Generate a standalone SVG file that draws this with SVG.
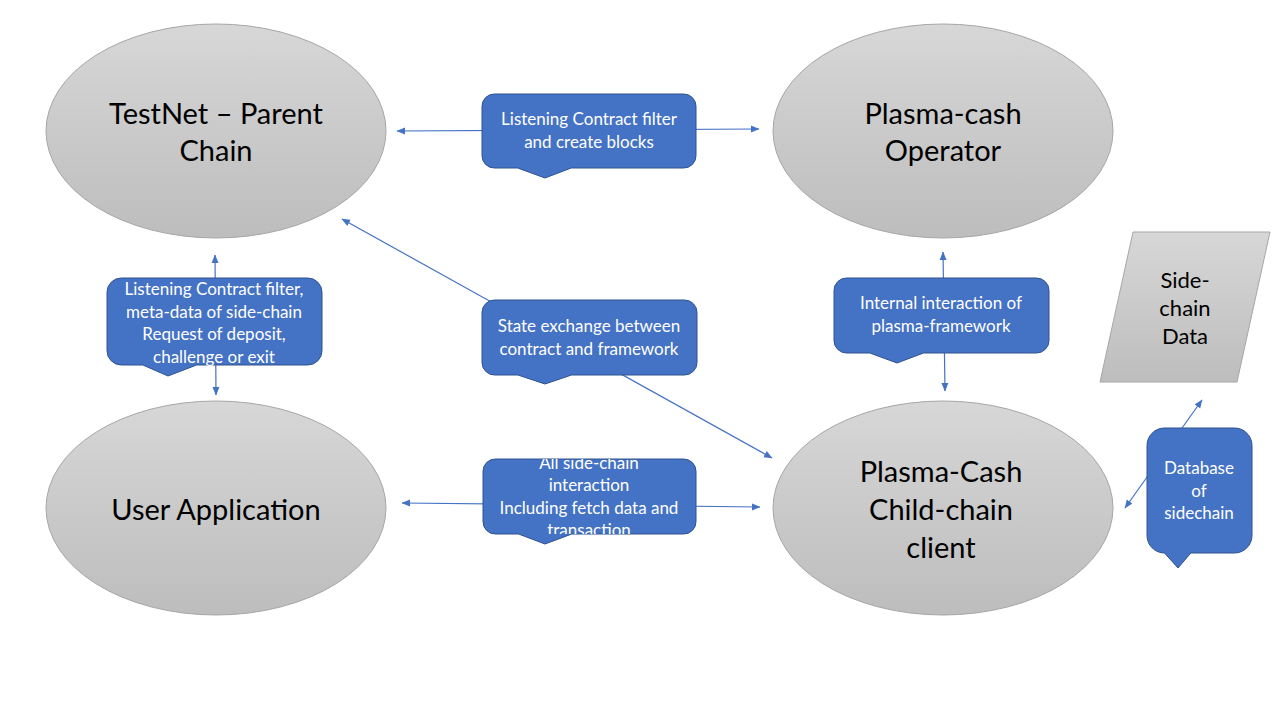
<svg xmlns="http://www.w3.org/2000/svg" width="1280" height="720" viewBox="0 0 1280 720">
  <defs>
    <linearGradient id="gray" x1="0" y1="0" x2="0" y2="1">
      <stop offset="0" stop-color="#d7d7d7"/>
      <stop offset="1" stop-color="#bdbdbd"/>
    </linearGradient>
    <marker id="ah" markerUnits="userSpaceOnUse" markerWidth="9" markerHeight="8" refX="8" refY="4" orient="auto-start-reverse" viewBox="0 0 9 8">
      <path d="M0,0.5 L8.5,4 L0,7.5 Z" fill="#4472c4"/>
    </marker>
    <clipPath id="clipBottom">
      <rect x="483" y="459" width="213" height="75"/>
    </clipPath>
    <style>
      .ell { fill: url(#gray); stroke: #a6a6a6; stroke-width: 1; }
      .para { fill: url(#gray); stroke: #a6a6a6; stroke-width: 1; }
      .call { fill: #4472c4; stroke: #2f528f; stroke-width: 1; }
      .conn { fill: none; stroke: #4472c4; stroke-width: 1.2; marker-start: url(#ah); marker-end: url(#ah); }
      .big { font-family: Lato, "Liberation Sans", sans-serif; font-size: 29px; fill: #000; text-anchor: middle; }
      .side { font-family: Lato, "Liberation Sans", sans-serif; font-size: 22px; fill: #000; text-anchor: middle; }
      .ct { font-family: Lato, "Liberation Sans", sans-serif; font-size: 17px; fill: #fff; text-anchor: middle; }
    </style>
  </defs>
  <rect width="1280" height="720" fill="#fff"/>

  <g id="connectors">
    <line class="conn" x1="397" y1="131" x2="759" y2="129"/>
    <line class="conn" x1="402" y1="503" x2="760" y2="507"/>
    <line class="conn" x1="215" y1="255" x2="216" y2="395"/>
    <line class="conn" x1="943" y1="252" x2="945" y2="391"/>
    <line class="conn" x1="342" y1="219" x2="772" y2="458"/>
    <line class="conn" x1="1125" y1="508" x2="1202" y2="400"/>
  </g>

  <g id="testnet">
    <ellipse class="ell" cx="216" cy="131" rx="170" ry="107"/>
    <text class="big" x="216" y="124">TestNet – Parent</text>
    <text class="big" x="216" y="161">Chain</text>
  </g>

  <g id="operator">
    <ellipse class="ell" cx="943" cy="131" rx="170" ry="107"/>
    <text class="big" x="943" y="124">Plasma-cash</text>
    <text class="big" x="943" y="161">Operator</text>
  </g>

  <g id="user-app">
    <ellipse class="ell" cx="216" cy="508" rx="170" ry="107"/>
    <text class="big" x="216" y="520">User Application</text>
  </g>

  <g id="child-chain">
    <ellipse class="ell" cx="943" cy="508" rx="170" ry="107"/>
    <text class="big" x="941" y="482">Plasma-Cash</text>
    <text class="big" x="941" y="520">Child-chain</text>
    <text class="big" x="941" y="558">client</text>
  </g>

  <g id="side-chain-data">
    <polygon class="para" points="1133,232 1270,232 1237,382 1100,382"/>
    <text class="side" x="1185" y="288">Side-</text>
    <text class="side" x="1185" y="316">chain</text>
    <text class="side" x="1185" y="344">Data</text>
  </g>

  <g id="callout-top">
    <path class="call" d="M494.3,94 H683.7 A12.3,12.3 0 0 1 696,106.3 V155.7 A12.3,12.3 0 0 1 683.7,168 H571.2 L545,178 L517.7,168 H494.3 A12.3,12.3 0 0 1 482,155.7 V106.3 A12.3,12.3 0 0 1 494.3,94 Z"/>
    <text class="ct" x="589" y="125">Listening Contract filter</text>
    <text class="ct" x="589" y="148">and create blocks</text>
  </g>

  <g id="callout-left">
    <path class="call" d="M121.3,278 H307.7 A14.3,14.3 0 0 1 322,292.3 V350.7 A14.3,14.3 0 0 1 307.7,365 H196.6 L168,376 L142.8,365 H121.3 A14.3,14.3 0 0 1 107,350.7 V292.3 A14.3,14.3 0 0 1 121.3,278 Z"/>
    <text class="ct" x="214" y="295">Listening Contract filter,</text>
    <text class="ct" x="214" y="317.5">meta-data of side-chain</text>
    <text class="ct" x="214" y="340">Request of deposit,</text>
    <text class="ct" x="214" y="362.5">challenge or exit</text>
  </g>

  <g id="callout-state">
    <path class="call" d="M494.5,300 H684.5 A12.5,12.5 0 0 1 697,312.5 V362.5 A12.5,12.5 0 0 1 684.5,375 H571.6 L545,384 L517.8,375 H494.5 A12.5,12.5 0 0 1 482,362.5 V312.5 A12.5,12.5 0 0 1 494.5,300 Z"/>
    <text class="ct" x="589" y="332">State exchange between</text>
    <text class="ct" x="589" y="355">contract and framework</text>
  </g>

  <g id="callout-internal">
    <path class="call" d="M846.5,278 H1036.5 A12.5,12.5 0 0 1 1049,290.5 V340.5 A12.5,12.5 0 0 1 1036.5,353 H923.6 L897,363 L869.8,353 H846.5 A12.5,12.5 0 0 1 834,340.5 V290.5 A12.5,12.5 0 0 1 846.5,278 Z"/>
    <text class="ct" x="941" y="309">Internal interaction of</text>
    <text class="ct" x="941" y="332">plasma-framework</text>
  </g>

  <g id="callout-bottom">
    <path class="call" d="M495.3,459 H683.7 A12.3,12.3 0 0 1 696,471.3 V521.7 A12.3,12.3 0 0 1 683.7,534 H571.8 L545,544 L518.5,534 H495.3 A12.3,12.3 0 0 1 483,521.7 V471.3 A12.3,12.3 0 0 1 495.3,459 Z"/>
    <g clip-path="url(#clipBottom)">
      <text class="ct" x="589" y="469">All side-chain</text>
      <text class="ct" x="589" y="491">interaction</text>
      <text class="ct" x="589" y="514">Including fetch data and</text>
      <text class="ct" x="589" y="536">transaction</text>
    </g>
  </g>

  <g id="callout-database">
    <path class="call" d="M1164.5,428 H1234.5 A17.5,17.5 0 0 1 1252,445.5 V535.5 A17.5,17.5 0 0 1 1234.5,553 H1190.8 L1178,568 L1164.5,553 A17.5,17.5 0 0 1 1147,535.5 V445.5 A17.5,17.5 0 0 1 1164.5,428 Z"/>
    <text class="ct" x="1199" y="474">Database</text>
    <text class="ct" x="1199" y="497">of</text>
    <text class="ct" x="1199" y="519">sidechain</text>
  </g>
</svg>
